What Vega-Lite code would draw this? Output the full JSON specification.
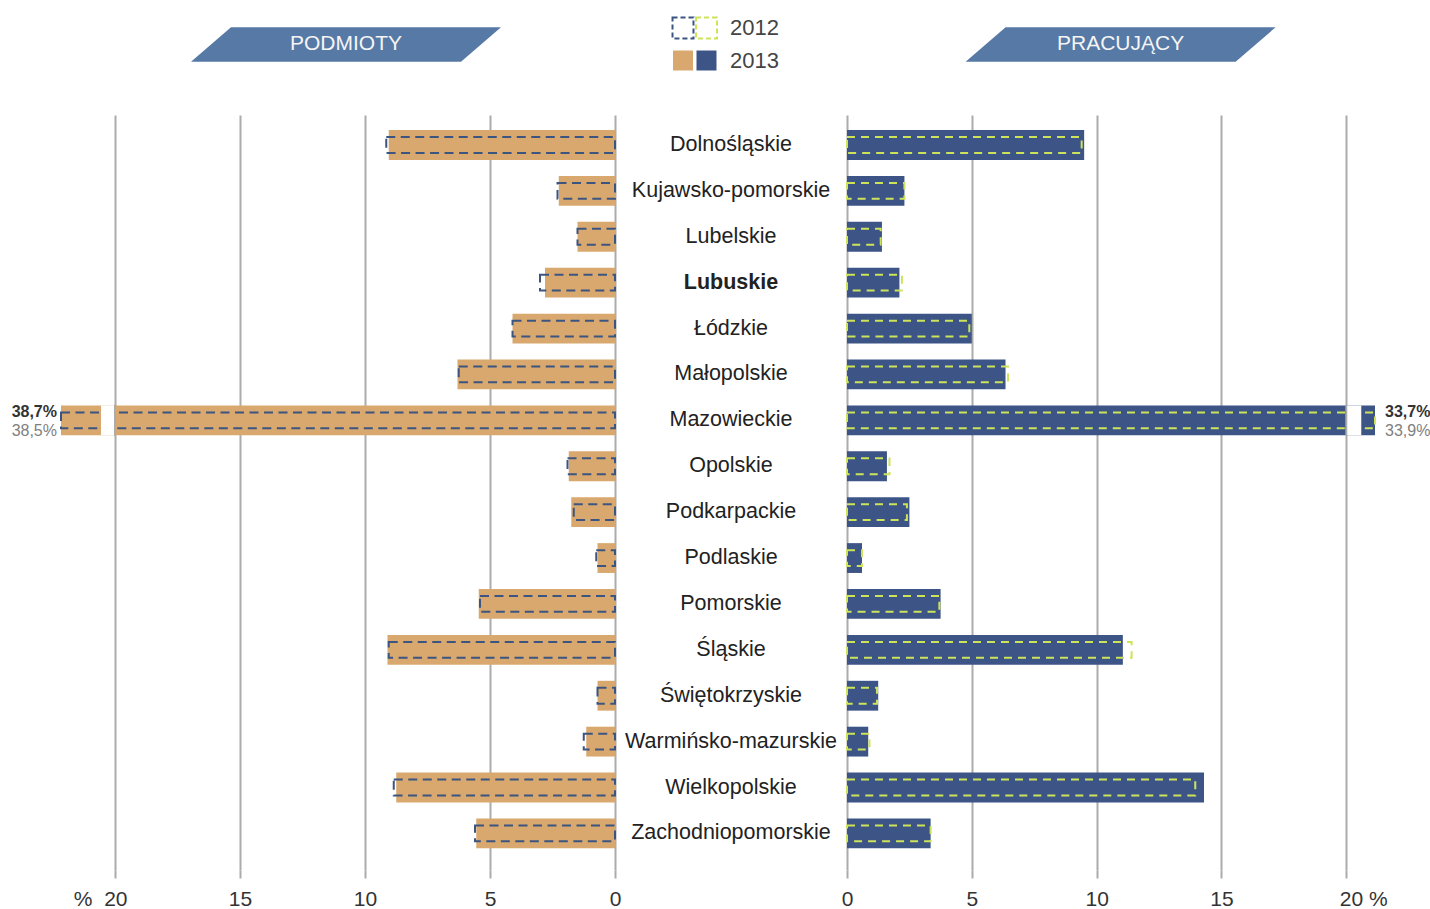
{
  "$schema": "https://vega.github.io/schema/vega-lite/v6.json",
  "padding": {"left": 11, "top": 13, "right": 0, "bottom": 0},
  "background": "white",
  "config": {
    "font": "Liberation Sans",
    "view": {"stroke": null},
    "locale": {"number": {"decimal": ",", "thousands": "\u00a0", "grouping": [3], "currency": ["", "%"]}}
  },
  "datasets": {
    "regions": [
      {"region": "Dolnośląskie", "podmioty_2012": 9.15, "podmioty_2013": 9.05, "pracujacy_2012": 9.4, "pracujacy_2013": 9.5},
      {"region": "Kujawsko-pomorskie", "podmioty_2012": 2.3, "podmioty_2013": 2.25, "pracujacy_2012": 2.3, "pracujacy_2013": 2.3},
      {"region": "Lubelskie", "podmioty_2012": 1.5, "podmioty_2013": 1.5, "pracujacy_2012": 1.35, "pracujacy_2013": 1.4},
      {"region": "Lubuskie", "podmioty_2012": 3.0, "podmioty_2013": 2.8, "pracujacy_2012": 2.2, "pracujacy_2013": 2.1},
      {"region": "Łódzkie", "podmioty_2012": 4.1, "podmioty_2013": 4.1, "pracujacy_2012": 4.9, "pracujacy_2013": 5.0},
      {"region": "Małopolskie", "podmioty_2012": 6.25, "podmioty_2013": 6.3, "pracujacy_2012": 6.45, "pracujacy_2013": 6.35},
      {"region": "Mazowieckie", "podmioty_2012": 38.5, "podmioty_2013": 38.7, "pracujacy_2012": 33.9, "pracujacy_2013": 33.7},
      {"region": "Opolskie", "podmioty_2012": 1.9, "podmioty_2013": 1.85, "pracujacy_2012": 1.7, "pracujacy_2013": 1.6},
      {"region": "Podkarpackie", "podmioty_2012": 1.65, "podmioty_2013": 1.75, "pracujacy_2012": 2.4, "pracujacy_2013": 2.5},
      {"region": "Podlaskie", "podmioty_2012": 0.75, "podmioty_2013": 0.7, "pracujacy_2012": 0.6, "pracujacy_2013": 0.6},
      {"region": "Pomorskie", "podmioty_2012": 5.4, "podmioty_2013": 5.45, "pracujacy_2012": 3.7, "pracujacy_2013": 3.75},
      {"region": "Śląskie", "podmioty_2012": 9.05, "podmioty_2013": 9.1, "pracujacy_2012": 11.4, "pracujacy_2013": 11.05},
      {"region": "Świętokrzyskie", "podmioty_2012": 0.7, "podmioty_2013": 0.7, "pracujacy_2012": 1.2, "pracujacy_2013": 1.25},
      {"region": "Warmińsko-mazurskie", "podmioty_2012": 1.25, "podmioty_2013": 1.15, "pracujacy_2012": 0.9, "pracujacy_2013": 0.85},
      {"region": "Wielkopolskie", "podmioty_2012": 8.85, "podmioty_2013": 8.75, "pracujacy_2012": 13.95, "pracujacy_2013": 14.3},
      {"region": "Zachodniopomorskie", "podmioty_2012": 5.6, "podmioty_2013": 5.55, "pracujacy_2012": 3.35, "pracujacy_2013": 3.35}
    ],
    "legend": [
      {"year": "2012", "panel": "PODMIOTY"},
      {"year": "2012", "panel": "PRACUJĄCY"},
      {"year": "2013", "panel": "PODMIOTY"},
      {"year": "2013", "panel": "PRACUJĄCY"}
    ],
    "legendLabels": [{"year": "2012"}, {"year": "2013"}],
    "leftTitle": [{"title": "PODMIOTY"}],
    "rightTitle": [{"title": "PRACUJĄCY"}]
  },
  "spacing": 0,
  "bounds": "flush",
  "resolve": {"scale": {"x": "independent", "y": "independent"}},
  "hconcat": [
    {
      "width": 554,
      "height": 755,
      "resolve": {"scale": {"y": "independent"}},
      "layer": [
        {
          "data": {"name": "leftTitle"},
          "layer": [
            {
              "mark": {"type": "point", "shape": "M -0.742 -0.111 L 1 -0.111 L 0.742 0.111 L -1 0.111 Z", "size": 96100, "filled": true, "color": "#5779a6", "opacity": 1, "strokeWidth": 0},
              "encoding": {
                "x": {"datum": 10.76, "type": "quantitative"},
                "y": {"datum": 1.0934, "type": "quantitative", "scale": {"domain": [0, 1], "nice": false, "zero": true}, "axis": null}
              }
            },
            {
              "mark": {"type": "text", "color": "#f5f5f5", "fontSize": 21, "baseline": "middle", "align": "center"},
              "encoding": {
                "x": {"datum": 10.76, "type": "quantitative"},
                "y": {"datum": 1.0934, "type": "quantitative"},
                "text": {"field": "title", "type": "nominal"}
              }
            }
          ]
        },
        {
          "data": {"name": "regions"},
          "layer": [
            {
              "mark": {"type": "bar", "color": "#d8a86e"},
              "encoding": {
                "y": {"field": "region", "type": "nominal", "sort": null, "axis": null, "scale": {"type": "band", "domain": ["Dolnośląskie", "Kujawsko-pomorskie", "Lubelskie", "Lubuskie", "Łódzkie", "Małopolskie", "Mazowieckie", "Opolskie", "Podkarpackie", "Podlaskie", "Pomorskie", "Śląskie", "Świętokrzyskie", "Warmińsko-mazurskie", "Wielkopolskie", "Zachodniopomorskie"], "paddingInner": 0.35, "paddingOuter": 0.4, "align": 0.41}},
                "x": {
                  "field": "podmioty_2013", "type": "quantitative",
                  "scale": {"domain": [0, 22.16], "reverse": true, "clamp": true, "nice": false, "zero": true},
                  "axis": {
                    "title": null, "values": [0, 5, 10, 15, 20], "grid": true, "gridColor": "#ababab", "gridWidth": 2,
                    "domain": false, "ticks": true, "tickColor": "#ababab", "tickWidth": 2, "tickSize": 8,
                    "labelPadding": 10, "labelFontSize": 21, "labelColor": "#333333", "labelFlush": false, "labelOverlap": false,
                    "labelExpr": "datum.value == 20 ? '%\u00a0\u00a020' : datum.label",
                    "labelAlign": {"condition": {"test": "datum.value == 20", "value": "right"}, "value": "center"},
                    "labelOffset": {"condition": {"test": "datum.value == 20", "value": 12}, "value": 0}
                  }
                }
              }
            },
            {
              "mark": {"type": "bar", "filled": false, "color": "#3b5580", "strokeWidth": 2, "strokeDash": [9, 5.5], "height": {"band": 0.53}},
              "encoding": {
                "y": {"field": "region", "type": "nominal", "sort": null},
                "x": {"field": "podmioty_2012", "type": "quantitative"}
              }
            },
            {
              "transform": [{"filter": "datum.podmioty_2013 > 20"}],
              "mark": {"type": "bar", "color": "white"},
              "encoding": {
                "y": {"field": "region", "type": "nominal", "sort": null},
                "x": {"datum": 20, "type": "quantitative"},
                "x2": {"datum": 20.56}
              }
            },
            {
              "transform": [{"filter": "datum.podmioty_2013 > 20"}],
              "mark": {"type": "tick", "orient": "vertical", "color": "#ababab", "thickness": 2, "size": 31, "opacity": 1},
              "encoding": {
                "y": {"field": "region", "type": "nominal", "sort": null},
                "x": {"datum": 20, "type": "quantitative"}
              }
            },
            {
              "transform": [{"filter": "datum.podmioty_2013 > 20"}],
              "mark": {"type": "text", "align": "right", "baseline": "middle", "dx": -4, "dy": -8, "fontSize": 16, "fontWeight": "bold", "color": "#333333"},
              "encoding": {
                "y": {"field": "region", "type": "nominal", "sort": null},
                "x": {"field": "podmioty_2013", "type": "quantitative"},
                "text": {"field": "podmioty_2013", "type": "quantitative", "format": "$.1f"}
              }
            },
            {
              "transform": [{"filter": "datum.podmioty_2013 > 20"}],
              "mark": {"type": "text", "align": "right", "baseline": "middle", "dx": -4, "dy": 10.5, "fontSize": 16, "color": "#808080"},
              "encoding": {
                "y": {"field": "region", "type": "nominal", "sort": null},
                "x": {"field": "podmioty_2013", "type": "quantitative"},
                "text": {"field": "podmioty_2012", "type": "quantitative", "format": "$.1f"}
              }
            }
          ]
        }
      ]
    },
    {
      "width": 232,
      "height": 755,
      "resolve": {"scale": {"x": "independent", "y": "independent"}},
      "layer": [
        {
          "layer": [
            {
              "data": {"name": "legend"},
              "transform": [{"filter": "datum.year == '2012'"}],
              "mark": {"type": "point", "shape": "square", "size": 440, "filled": false, "strokeWidth": 2, "strokeDash": [5, 3], "opacity": 1},
              "encoding": {
                "x": {"field": "panel", "type": "nominal", "scale": {"type": "point", "domain": ["PODMIOTY", "PRACUJĄCY", "label"], "range": [68, 115], "padding": 0}, "axis": null},
                "y": {"field": "year", "type": "nominal", "scale": {"type": "point", "domain": ["2012", "2013"], "range": [-87, -54.5], "padding": 0}, "axis": null},
                "stroke": {"field": "panel", "type": "nominal", "scale": {"domain": ["PODMIOTY", "PRACUJĄCY"], "range": ["#3b5580", "#cde35a"]}, "legend": null}
              }
            },
            {
              "data": {"name": "legend"},
              "transform": [{"filter": "datum.year == '2013'"}],
              "mark": {"type": "point", "shape": "square", "size": 400, "filled": true, "opacity": 1, "strokeWidth": 0},
              "encoding": {
                "x": {"field": "panel", "type": "nominal"},
                "y": {"field": "year", "type": "nominal"},
                "fill": {"field": "panel", "type": "nominal", "scale": {"domain": ["PODMIOTY", "PRACUJĄCY"], "range": ["#d8a86e", "#3d5586"]}, "legend": null}
              }
            },
            {
              "data": {"name": "legendLabels"},
              "mark": {"type": "text", "align": "left", "baseline": "middle", "fontSize": 22, "color": "#444444"},
              "encoding": {
                "x": {"datum": "label", "type": "nominal"},
                "y": {"field": "year", "type": "nominal"},
                "text": {"field": "year", "type": "nominal"}
              }
            }
          ]
        },
        {
          "data": {"name": "regions"},
          "layer": [
            {
              "mark": {"type": "text", "fontSize": 21.5, "color": "#222222", "baseline": "middle", "align": "center"},
              "encoding": {
                "y": {"field": "region", "type": "nominal", "sort": null, "axis": null, "scale": {"type": "band", "domain": ["Dolnośląskie", "Kujawsko-pomorskie", "Lubelskie", "Lubuskie", "Łódzkie", "Małopolskie", "Mazowieckie", "Opolskie", "Podkarpackie", "Podlaskie", "Pomorskie", "Śląskie", "Świętokrzyskie", "Warmińsko-mazurskie", "Wielkopolskie", "Zachodniopomorskie"], "paddingInner": 0.35, "paddingOuter": 0.4, "align": 0.41}},
                "text": {"condition": {"test": "datum.region != 'Lubuskie'", "field": "region", "type": "nominal"}, "value": ""}
              }
            },
            {
              "mark": {"type": "text", "fontSize": 21.5, "fontWeight": "bold", "color": "#222222", "baseline": "middle", "align": "center"},
              "encoding": {
                "y": {"field": "region", "type": "nominal", "sort": null},
                "text": {"condition": {"test": "datum.region == 'Lubuskie'", "field": "region", "type": "nominal"}, "value": ""}
              }
            }
          ]
        }
      ]
    },
    {
      "width": 528,
      "height": 755,
      "resolve": {"scale": {"y": "independent"}},
      "layer": [
        {
          "data": {"name": "rightTitle"},
          "layer": [
            {
              "mark": {"type": "point", "shape": "M -0.742 -0.111 L 1 -0.111 L 0.742 0.111 L -1 0.111 Z", "size": 96100, "filled": true, "color": "#5779a6", "opacity": 1, "strokeWidth": 0},
              "encoding": {
                "x": {"datum": 10.96, "type": "quantitative"},
                "y": {"datum": 1.0934, "type": "quantitative", "scale": {"domain": [0, 1], "nice": false, "zero": true}, "axis": null}
              }
            },
            {
              "mark": {"type": "text", "color": "#f5f5f5", "fontSize": 21, "baseline": "middle", "align": "center"},
              "encoding": {
                "x": {"datum": 10.96, "type": "quantitative"},
                "y": {"datum": 1.0934, "type": "quantitative"},
                "text": {"field": "title", "type": "nominal"}
              }
            }
          ]
        },
        {
          "data": {"name": "regions"},
          "layer": [
            {
              "mark": {"type": "bar", "color": "#3d5586"},
              "encoding": {
                "y": {"field": "region", "type": "nominal", "sort": null, "axis": null, "scale": {"type": "band", "domain": ["Dolnośląskie", "Kujawsko-pomorskie", "Lubelskie", "Lubuskie", "Łódzkie", "Małopolskie", "Mazowieckie", "Opolskie", "Podkarpackie", "Podlaskie", "Pomorskie", "Śląskie", "Świętokrzyskie", "Warmińsko-mazurskie", "Wielkopolskie", "Zachodniopomorskie"], "paddingInner": 0.35, "paddingOuter": 0.4, "align": 0.41}},
                "x": {
                  "field": "pracujacy_2013", "type": "quantitative",
                  "scale": {"domain": [0, 21.15], "clamp": true, "nice": false, "zero": true},
                  "axis": {
                    "title": null, "values": [0, 5, 10, 15, 20], "grid": true, "gridColor": "#ababab", "gridWidth": 2,
                    "domain": false, "ticks": true, "tickColor": "#ababab", "tickWidth": 2, "tickSize": 8,
                    "labelPadding": 10, "labelFontSize": 21, "labelColor": "#333333", "labelFlush": false, "labelOverlap": false,
                    "labelExpr": "datum.value == 20 ? '20\u00a0%' : datum.label",
                    "labelAlign": {"condition": {"test": "datum.value == 20", "value": "left"}, "value": "center"},
                    "labelOffset": {"condition": {"test": "datum.value == 20", "value": -7}, "value": 0}
                  }
                }
              }
            },
            {
              "mark": {"type": "bar", "filled": false, "color": "#cde35a", "strokeWidth": 2, "strokeDash": [8, 6], "height": {"band": 0.53}},
              "encoding": {
                "y": {"field": "region", "type": "nominal", "sort": null},
                "x": {"field": "pracujacy_2012", "type": "quantitative"}
              }
            },
            {
              "transform": [{"filter": "datum.pracujacy_2013 > 20"}],
              "mark": {"type": "bar", "color": "white"},
              "encoding": {
                "y": {"field": "region", "type": "nominal", "sort": null},
                "x": {"datum": 20, "type": "quantitative"},
                "x2": {"datum": 20.6}
              }
            },
            {
              "transform": [{"filter": "datum.pracujacy_2013 > 20"}],
              "mark": {"type": "tick", "orient": "vertical", "color": "#ababab", "thickness": 2, "size": 31, "opacity": 1},
              "encoding": {
                "y": {"field": "region", "type": "nominal", "sort": null},
                "x": {"datum": 20, "type": "quantitative"}
              }
            },
            {
              "transform": [{"filter": "datum.pracujacy_2013 > 20"}],
              "mark": {"type": "text", "align": "left", "baseline": "middle", "dx": 10, "dy": -8, "fontSize": 16, "fontWeight": "bold", "color": "#333333"},
              "encoding": {
                "y": {"field": "region", "type": "nominal", "sort": null},
                "x": {"field": "pracujacy_2013", "type": "quantitative"},
                "text": {"field": "pracujacy_2013", "type": "quantitative", "format": "$.1f"}
              }
            },
            {
              "transform": [{"filter": "datum.pracujacy_2013 > 20"}],
              "mark": {"type": "text", "align": "left", "baseline": "middle", "dx": 10, "dy": 10.5, "fontSize": 16, "color": "#808080"},
              "encoding": {
                "y": {"field": "region", "type": "nominal", "sort": null},
                "x": {"field": "pracujacy_2013", "type": "quantitative"},
                "text": {"field": "pracujacy_2012", "type": "quantitative", "format": "$.1f"}
              }
            }
          ]
        }
      ]
    }
  ]
}
